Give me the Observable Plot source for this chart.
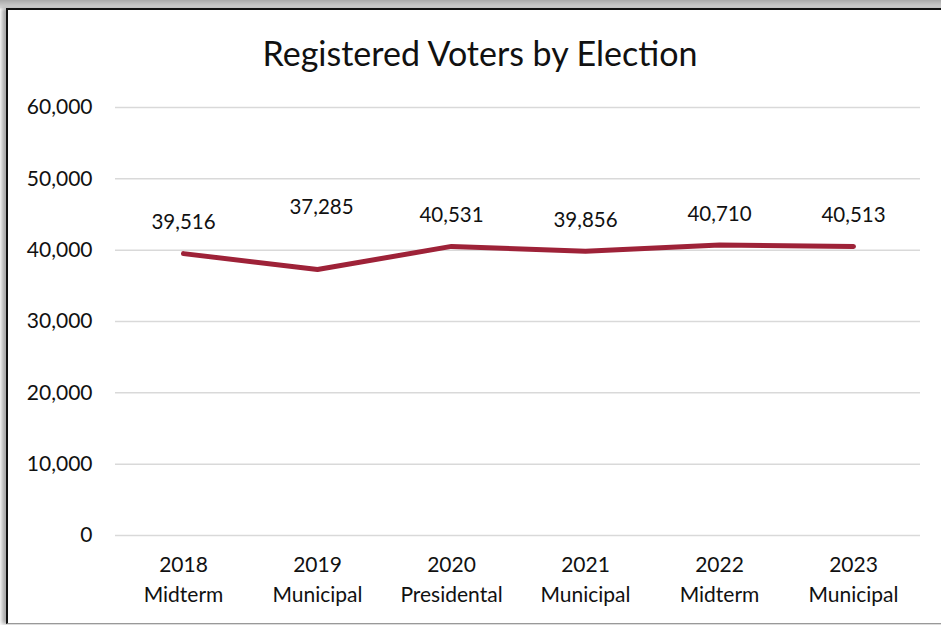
<!DOCTYPE html>
<html>
<head>
<meta charset="utf-8">
<script src="https://cdn.jsdelivr.net/npm/d3@7"></script>
<script src="https://cdn.jsdelivr.net/npm/@observablehq/plot@0.6"></script>
<style>
  html, body { margin: 0; padding: 0; background: #fff; width: 941px; height: 625px; overflow: hidden; }
  #shadow { position: absolute; left: 0; top: 0; width: 960px; height: 625px;
    background: linear-gradient(#a8a8a8, #d8d8d8 8px, #fff 9px); }
  #frame { position: absolute; left: 6px; top: 8px; width: 960px; height: 613px; background: #fff;
    border-left: 2px solid #111; border-top: 2px solid #111; border-bottom: 1px solid #999;
    box-shadow: -4px 0 4px #aaa; }
  #title { position: absolute; left: 0; width: 960px; top: 32px; text-align: center;
    font-family: Lato, "Liberation Sans", sans-serif; font-size: 34px; color: #111; }
  #chart { position: absolute; left: 0; top: 0; }
</style>
</head>
<body>
<div id="shadow"></div>
<div id="frame"></div>
<div id="title">Registered Voters by Election</div>
<div id="chart"></div>
<script>
const years = ["2018", "2019", "2020", "2021", "2022", "2023"];
const types = ["Midterm", "Municipal", "Presidental", "Municipal", "Midterm", "Municipal"];
const voters = [39516, 37285, 40531, 39856, 40710, 40513];
const yTicks = [0, 10000, 20000, 30000, 40000, 50000, 60000];

const categories = years.map((y, i) => `${y}\n${types[i]}`);
const data = categories.map((c, i) => ({ cat: c, value: voters[i], i }));
const fmt = d3.format(",");
const font = "Lato, 'Liberation Sans', sans-serif";

const chart = Plot.plot({
  width: 941,
  height: 625,
  marginLeft: 115,
  marginRight: 21,
  marginTop: 107,
  marginBottom: 90,
  style: { fontFamily: font, fontSize: "20px", color: "#111", background: "transparent" },
  x: { type: "band", domain: categories, padding: 0, label: null },
  y: { domain: [0, 60000], label: null },
  marks: [
    Plot.gridY(yTicks, { stroke: "#d9d9d9", strokeOpacity: 1, strokeWidth: 1.5 }),
    Plot.axisY(yTicks, { tickSize: 0, tickPadding: 23, tickFormat: d => fmt(d), fontSize: 21, label: null }),
    Plot.axisX({ tickSize: 0, tickPadding: 16, fontSize: 21, lineHeight: 1.4, label: null }),
    Plot.line(data, { x: "cat", y: "value", stroke: "#9e2238", strokeWidth: 5, strokeLinecap: "round", strokeLinejoin: "round" }),
    Plot.text(data.filter(d => d.i !== 1), { x: "cat", y: "value", text: d => fmt(d.value), dy: -31, fontSize: 20.5 }),
    Plot.text(data.filter(d => d.i === 1), { x: "cat", y: "value", text: d => fmt(d.value), dy: -62, dx: 4, fontSize: 20.5 })
  ]
});
document.getElementById("chart").appendChild(chart);
</script>
</body>
</html>
